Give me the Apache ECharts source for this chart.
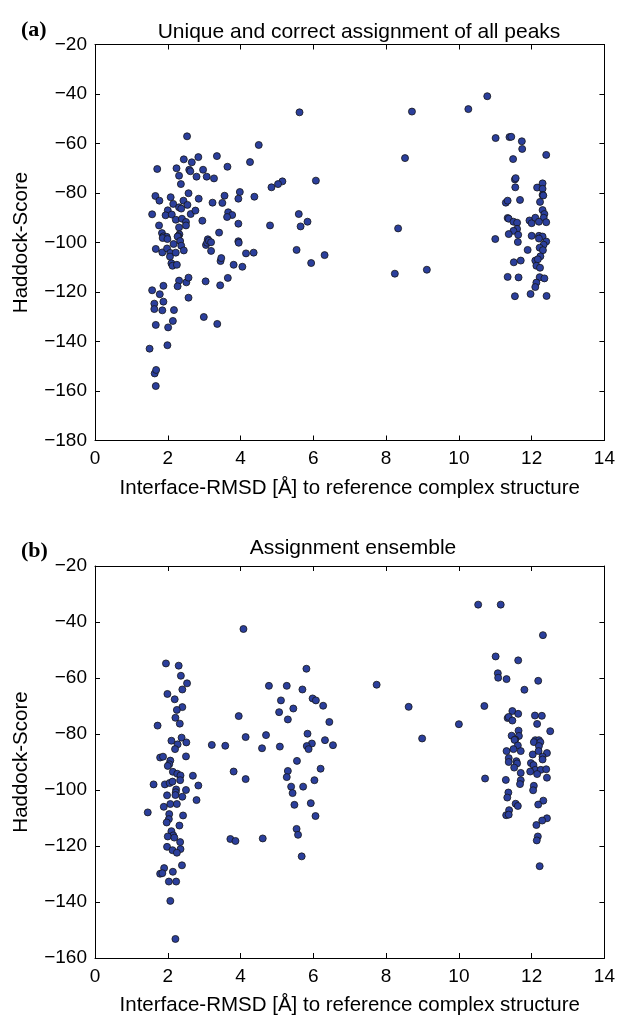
<!DOCTYPE html>
<html><head><meta charset="utf-8">
<script src="https://cdn.jsdelivr.net/npm/echarts@6/dist/echarts.min.js"></script>
<style>html,body{margin:0;padding:0;background:#fff}#c{width:618px;height:1017px}</style>
</head><body><div id="c"></div>
<script>
// Panel (a): Unique and correct assignment of all peaks
const panelA = [
[5.62,-47.4],[2.53,-57.1],[4.5,-60.6],[2.44,-66.4],[2.84,-65.5],[2.66,-67.6],[3.35,-65.1],[4.26,-67.5],
[1.71,-70.3],[2.24,-70.0],[2.59,-70.6],[2.62,-71.2],[2.97,-70.6],[3.64,-69.4],[2.31,-73.0],[2.79,-73.4],
[3.07,-73.4],[3.27,-74.1],[2.36,-76.4],[5.15,-75.3],[5.03,-76.4],[4.85,-77.7],[6.07,-75.0],[1.66,-81.2],
[1.77,-83.1],[2.08,-81.7],[2.57,-80.1],[2.85,-82.3],[2.15,-84.4],[2.43,-83.1],[2.54,-84.8],[2.31,-85.8],
[2.37,-86.3],[2.0,-87.0],[1.57,-88.6],[1.94,-89.0],[2.11,-88.7],[2.63,-88.5],[2.76,-87.1],[3.23,-83.9],
[3.5,-84.0],[3.56,-81.1],[3.98,-79.6],[3.94,-82.3],[4.38,-81.5],[3.66,-87.8],[3.77,-88.9],[3.63,-89.7],
[2.22,-90.8],[2.39,-90.4],[2.5,-91.7],[2.5,-93.1],[2.95,-91.2],[1.76,-93.1],[2.31,-93.9],[3.94,-92.4],
[4.81,-93.1],[5.6,-88.5],[5.65,-93.5],[5.84,-91.6],[1.84,-96.2],[2.32,-96.7],[3.41,-96.0],[1.88,-97.5],
[1.97,-97.7],[2.29,-97.4],[3.1,-98.7],[3.94,-99.5],
[1.86,-98.2],[1.99,-98.6],[2.27,-97.6],[2.34,-99.4],[2.16,-100.6],[2.37,-101.3],[1.67,-102.6],[1.85,-104.0],
[1.98,-102.4],[2.07,-104.2],[2.06,-105.7],[2.22,-104.1],[2.44,-103.2],[2.10,-108.4],[2.13,-109.4],[2.25,-109.0],
[3.05,-101.0],[3.08,-100.1],[3.13,-99.3],[3.19,-99.9],[3.19,-103.4],[3.95,-100.1],[3.45,-107.5],[3.47,-106.3],
[3.81,-109.0],[4.05,-109.8],[4.15,-104.4],[4.36,-104.1],[5.54,-103.0],[5.94,-108.3],[6.31,-105.1],
[1.88,-117.5],[1.57,-119.3],[1.78,-120.9],[1.63,-124.7],[1.63,-126.9],[1.88,-123.9],[1.85,-127.4],[2.17,-127.3],
[2.14,-131.7],[1.67,-133.3],[2.01,-134.3],[2.31,-115.4],[2.27,-117.7],[2.51,-116.1],[2.57,-114.2],[2.57,-122.3],
[3.04,-115.7],[3.44,-117.3],[3.65,-114.3],[2.99,-130.1],[3.36,-132.9],[1.5,-142.9],[1.99,-141.5],[1.64,-152.9],
[1.68,-151.5],[1.67,-158.0],
[8.71,-47.1],[10.26,-46.1],[10.78,-40.9],[8.52,-65.9],[11.01,-57.8],[11.39,-57.4],[11.44,-57.3],[11.73,-59.1],
[11.74,-62.2],[11.49,-66.3],[12.4,-64.6],[11.54,-74.5],[11.56,-74.0],[11.55,-77.7],[11.68,-82.8],[11.29,-83.9],
[11.34,-83.1],[12.3,-76.1],[12.15,-77.8],[12.3,-78.3],[12.3,-80.8],[12.32,-81.0],[12.23,-83.6],[12.3,-86.9],
[12.35,-88.5],[11.34,-90.1],[11.37,-90.4],[11.5,-91.6],[11.6,-92.0],[11.6,-94.5],[11.5,-95.3],[11.94,-91.1],
[12.0,-92.2],[12.1,-90.0],[12.33,-90.0],[12.4,-91.8],[12.2,-91.6],[11.37,-96.6],[11.63,-96.9],[12.0,-97.3],
[12.2,-97.3],[12.3,-97.6],[11.0,-98.6],[8.33,-94.3],
[11.62,-99.8],[12.2,-98.4],[12.4,-99.6],[12.33,-100.9],[12.22,-102.1],[12.31,-103.1],[11.89,-103.0],[12.24,-105.6],
[12.1,-107.3],[12.17,-106.8],[11.51,-108.0],[11.7,-107.3],[12.13,-109.4],[12.23,-110.2],[8.24,-112.6],[9.12,-111.0],
[11.34,-113.9],[11.64,-114.1],[12.22,-114.0],[12.35,-114.5],[12.13,-116.2],[12.1,-118.0],[11.97,-120.8],[11.54,-121.7],
[12.41,-121.6]
];
// Panel (b): Assignment ensemble
const panelB = [
[4.08,-42.5],[1.95,-54.8],[2.30,-55.6],[2.36,-59.2],[2.53,-61.9],[2.40,-64.1],[1.99,-65.7],[2.19,-67.6],
[2.40,-70.4],[2.25,-71.4],[2.21,-74.2],[2.33,-76.3],[1.72,-77.0],[5.81,-56.7],[4.78,-62.8],[5.27,-62.8],
[5.7,-64.1],[5.11,-68.0],[5.98,-67.3],[6.07,-68.0],[6.27,-69.9],[5.06,-72.2],[5.45,-70.9],[5.30,-74.8],
[6.44,-75.7],[3.95,-73.6],[5.84,-79.9],[4.14,-81.1],[4.70,-80.4],[6.32,-82.2],[5.96,-83.4],[5.82,-84.3],
[6.54,-84.0],[2.10,-82.4],[2.38,-81.3],[2.51,-83.0],[3.21,-83.9],[3.58,-84.2],[4.59,-85.1],[5.08,-84.5],
[2.27,-83.7],[2.2,-85.4],[5.87,-85.4],[2.5,-88.0],[1.79,-88.4],[1.87,-88.1],[2.07,-89.5],[2.04,-90.8],
[2.0,-91.4],[5.55,-89.6],[5.3,-93.2],[5.27,-95.4],[3.81,-93.4],[4.14,-96.1],[6.2,-92.4],[6.03,-96.5],
[2.14,-93.5],[2.26,-94.2],[2.35,-94.8],[2.69,-94.9],[2.34,-96.5],[1.61,-98.0],[1.92,-98.0],[2.05,-97.5],
[2.13,-97.0],[2.84,-98.4],[2.5,-100.0],[2.23,-99.8],[2.22,-100.8],[2.21,-101.8],[1.98,-101.9],[2.4,-102.4],
[2.79,-103.6],[2.07,-105.0],[2.25,-105.0],[1.89,-106.0],[1.45,-108.0],[2.04,-108.6],[2.42,-109.1],[2.03,-110.4],
[1.97,-111.6],[2.32,-112.7],[2.1,-114.7],[2.15,-116.2],[2.0,-116.6],[2.18,-117.0],[2.34,-118.6],[1.98,-120.3],
[2.13,-121.5],[2.35,-121.1],[2.25,-122.4],[2.39,-126.9],[1.9,-127.9],[1.79,-129.9],[1.85,-129.7],[2.14,-129.2],
[2.03,-132.7],[2.23,-132.7],[2.07,-139.6],[2.21,-153.2],[5.39,-98.8],[5.43,-101.1],[5.72,-98.8],[5.48,-105.3],
[5.93,-104.7],[6.06,-109.3],[5.54,-113.9],[5.58,-116.0],[5.68,-123.7],[3.72,-117.5],[3.86,-118.2],[4.61,-117.3],
[10.53,-33.8],[11.15,-33.8],[12.31,-44.7],[11.01,-52.3],[11.63,-53.7],[11.07,-58.3],[11.08,-59.9],[11.31,-60.4],
[12.18,-61.0],[11.8,-64.2],[7.74,-62.4],[8.62,-70.3],[10.7,-70.0],[10.0,-76.5],[8.99,-81.6],[11.47,-71.8],
[11.63,-72.8],[11.34,-74.3],[11.37,-73.9],[11.47,-75.2],[12.09,-73.4],[12.28,-73.5],[12.15,-76.4],[12.51,-79.0],
[11.64,-78.8],[11.45,-80.6],[11.65,-80.7],[11.55,-82.0],[12.1,-82.2],[12.2,-82.2],
[11.53,-82.1],[11.62,-84.1],[12.06,-82.9],[12.24,-82.9],[12.2,-84.3],[11.31,-86.1],[11.5,-85.4],[11.7,-86.1],
[12.03,-87.3],[12.19,-86.1],[12.42,-86.8],[12.3,-88.1],[12.3,-89.1],[11.37,-88.6],[11.37,-90.0],[11.58,-89.7],
[11.6,-90.5],[11.52,-92.0],[11.98,-90.4],[12.05,-91.1],[12.1,-92.8],[12.25,-92.8],[12.4,-92.6],[11.96,-93.4],
[12.15,-94.3],[11.7,-93.9],[12.42,-95.6],[10.72,-95.9],[11.29,-96.4],[11.7,-96.5],[11.68,-97.9],[12.06,-98.5],
[12.04,-100.1],[11.36,-100.9],[11.33,-102.7],[12.32,-103.8],[11.56,-104.9],[11.62,-105.7],[12.18,-105.2],[11.38,-107.2],
[11.3,-109.0],[11.37,-108.8],[12.42,-110.1],[12.29,-110.9],[12.13,-112.5],[12.17,-116.6],[12.14,-118.0],[12.22,-127.2]
];
const xRange = [0, 14], xStep = 2;
const yRangeA = [-180, -20], yRangeB = [-160, -20], yStep = 20;
const titleA = 'Unique and correct assignment of all peaks';
const titleB = 'Assignment ensemble';
const xName = 'Interface-RMSD [Å] to reference complex structure';
const yName = 'Haddock-Score';

const chart = echarts.init(document.getElementById('c'), null, {renderer:'canvas'});
const FONT = 'Liberation Sans, Arial, Helvetica, sans-serif';
const SERIF = 'Liberation Serif, Times New Roman, serif';
const fmt = v => (v < 0 ? '\u2212' + Math.abs(v) : String(v));
function xAx(grid, main){
  return {type:'value', gridIndex:grid, min:xRange[0], max:xRange[1], interval:xStep,
    position: main?'bottom':'top',
    axisLine:{show:true, onZero:false, lineStyle:{color:'#000',width:1}},
    axisTick:{show:true, inside:true, length:5, lineStyle:{color:'#000'}},
    axisLabel:{show:main, color:'#000', fontSize:19, fontFamily:FONT, margin:9, formatter:fmt},
    splitLine:{show:false},
    name: main? xName : '', nameLocation:'middle', nameGap:37,
    nameTextStyle:{color:'#000', fontSize:20.5, fontFamily:FONT}};
}
function yAx(grid, main, r){
  return {type:'value', gridIndex:grid, min:r[0], max:r[1], interval:yStep,
    position: main?'left':'right',
    axisLine:{show:true, onZero:false, lineStyle:{color:'#000',width:1}},
    axisTick:{show:true, inside:true, length:5, lineStyle:{color:'#000'}},
    axisLabel:{show:main, color:'#000', fontSize:19, fontFamily:FONT, margin:8, formatter:fmt},
    splitLine:{show:false},
    name: main? yName : '', nameLocation:'middle', nameGap:63, nameRotate:90,
    nameTextStyle:{color:'#000', fontSize:20.5, fontFamily:FONT}};
}
const sym = {type:'scatter', symbol:'circle', symbolSize:7,
  itemStyle:{color:'#2b3f9c', borderColor:'#151515', borderWidth:0.8, opacity:1},
  emphasis:{disabled:true}, silent:true};
chart.setOption({
  animation:false,
  backgroundColor:'#fff',
  title:[
    {text:titleA, left:354, top:17, textAlign:'center', textStyle:{fontSize:21, fontWeight:'normal', color:'#000', fontFamily:FONT}},
    {text:titleB, left:348, top:533, textAlign:'center', textStyle:{fontSize:21, fontWeight:'normal', color:'#000', fontFamily:FONT}},
    {text:'(a)', left:16, top:14, textStyle:{fontSize:22, fontWeight:'bold', color:'#000', fontFamily:SERIF}},
    {text:'(b)', left:16, top:535, textStyle:{fontSize:22, fontWeight:'bold', color:'#000', fontFamily:SERIF}}
  ],
  grid:[
    {left:95, top:44.5, width:510, height:396},
    {left:95, top:566, width:510, height:396}
  ],
  xAxis:[xAx(0,true), xAx(0,false), xAx(1,true), xAx(1,false)],
  yAxis:[yAx(0,true,yRangeA), yAx(0,false,yRangeA), yAx(1,true,yRangeB), yAx(1,false,yRangeB)],
  series:[
    Object.assign({}, sym, {xAxisIndex:0, yAxisIndex:0, data:panelA}),
    Object.assign({}, sym, {xAxisIndex:2, yAxisIndex:2, data:panelB})
  ]
});
</script></body></html>
